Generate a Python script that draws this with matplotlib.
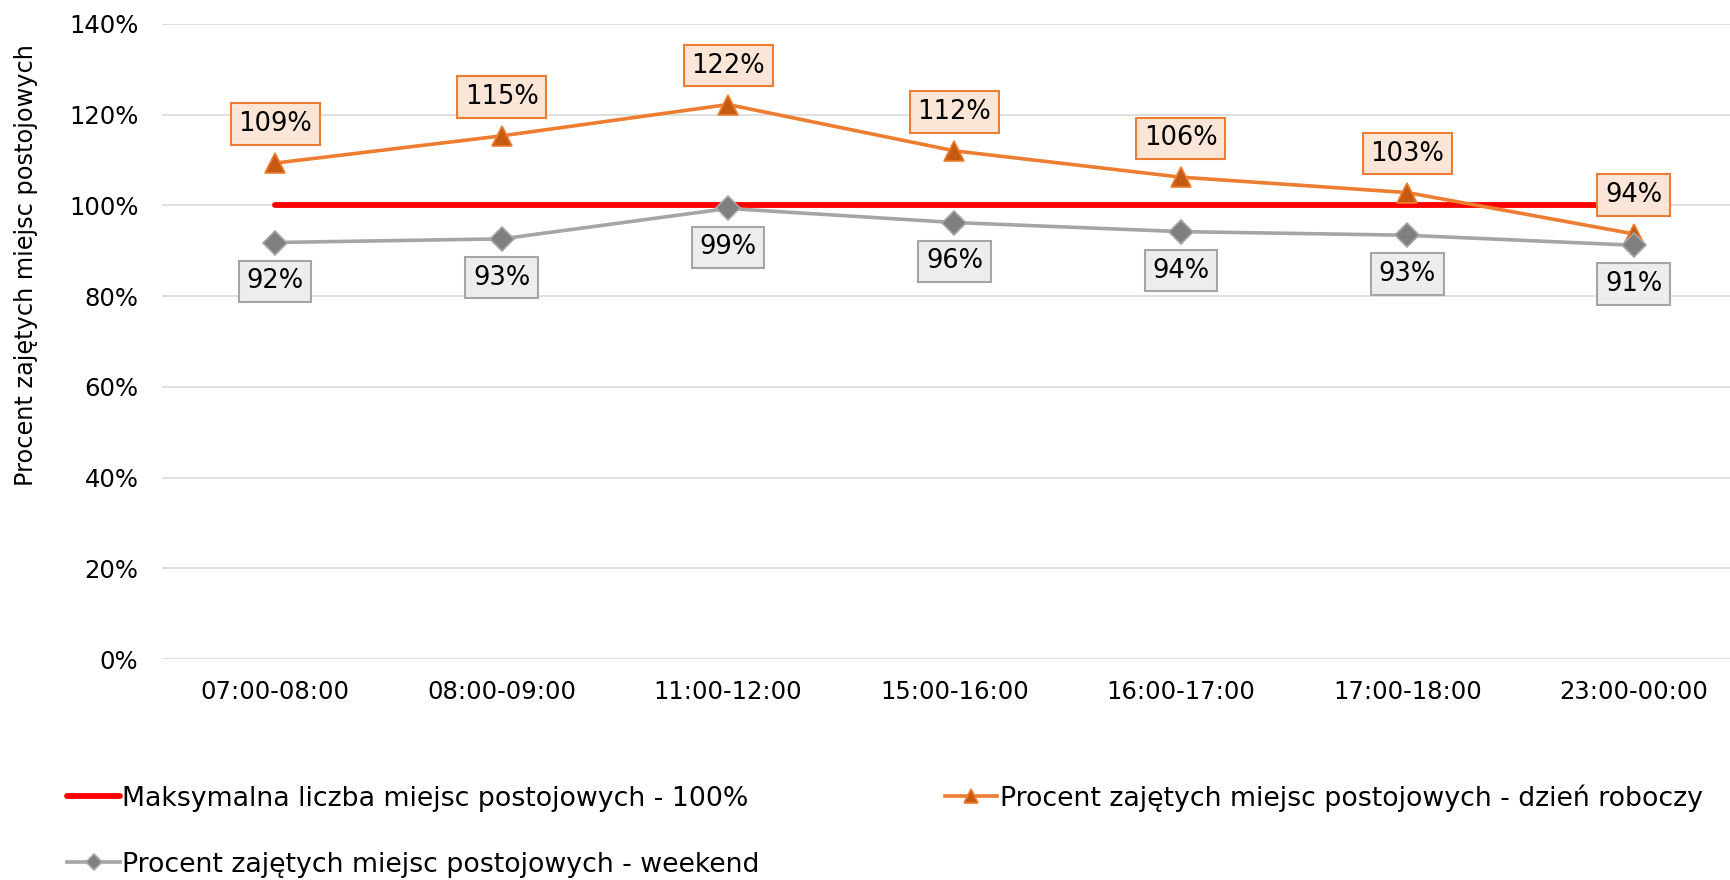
import matplotlib
matplotlib.use('Agg')
import matplotlib.pyplot as plt
from matplotlib.ticker import FuncFormatter

hours = ['07:00-08:00', '08:00-09:00', '11:00-12:00', '15:00-16:00',
         '16:00-17:00', '17:00-18:00', '23:00-00:00']
max_level = [100, 100, 100, 100, 100, 100, 100]
workday = [109.3, 115.3, 122.2, 112.0, 106.2, 102.8, 93.7]
weekend = [91.8, 92.6, 99.3, 96.2, 94.2, 93.4, 91.2]

name_max = 'Maksymalna liczba miejsc postojowych - 100%'
name_workday = 'Procent zajętych miejsc postojowych - dzień roboczy'
name_weekend = 'Procent zajętych miejsc postojowych - weekend'

plt.rcParams['font.family'] = ['DejaVu Sans']

fig = plt.figure(figsize=(17.31, 8.8), dpi=100)
ax = fig.add_axes([0.0936, 0.251, 0.9064, 0.722])

x = list(range(len(hours)))

l_max, = ax.plot(x, max_level, color='#FF0000', lw=4.2, solid_capstyle='round', zorder=3)
l_work, = ax.plot(x, workday, color='#ED7D31', lw=2.6, marker='^', markersize=15,
                  markerfacecolor='#C55A11', markeredgecolor='#ED7D31', markeredgewidth=1.2, zorder=4)
l_week, = ax.plot(x, weekend, color='#A5A5A5', lw=2.6, marker='D', markersize=12,
                  markerfacecolor='#7F7F7F', markeredgecolor='#A5A5A5', markeredgewidth=1.2, zorder=5)

for xi, v in zip(x, workday):
    ax.annotate('{:.0f}%'.format(v), (xi, v), xytext=(0, 28), textcoords='offset points',
                ha='center', va='center', fontsize=18.5, zorder=6,
                bbox=dict(boxstyle='square,pad=0.3', fc='#FBE5D6', ec='#ED7D31', lw=1.5))
for xi, v in zip(x, weekend):
    ax.annotate('{:.0f}%'.format(v), (xi, v), xytext=(0, -28), textcoords='offset points',
                ha='center', va='center', fontsize=18.5, zorder=6,
                bbox=dict(boxstyle='square,pad=0.3', fc='#EDEDED', ec='#A5A5A5', lw=1.5))

ax.set_xlim(-0.5, 6.43)
ax.set_ylim(0, 140)
ax.set_yticks(range(0, 141, 20))
ax.yaxis.set_major_formatter(FuncFormatter(lambda v, p: '{:.0f}%'.format(v)))
ax.set_xticks(x)
ax.set_xticklabels(hours)
ax.tick_params(axis='both', length=0, labelsize=17.5, colors='#000000')
ax.tick_params(axis='y', pad=17)
ax.tick_params(axis='x', pad=15)
ax.grid(axis='y', color='#D9D9D9', lw=1.2)
ax.set_axisbelow(True)
for s in ax.spines.values():
    s.set_visible(False)

ax.set_ylabel('Procent zajętych miejsc postojowych', fontsize=17.3)
ax.yaxis.set_label_coords(-0.079, 0.62)

fig.legend([l_max, l_week, l_work], [name_max, name_weekend, name_workday],
           loc='lower left', bbox_to_anchor=(0.025, -0.025), ncol=2, frameon=False,
           fontsize=19.3, handlelength=1.95, handletextpad=0.1, columnspacing=6.9,
           labelspacing=1.5, markerscale=0.7)

fig.savefig('out.png', dpi=100)
